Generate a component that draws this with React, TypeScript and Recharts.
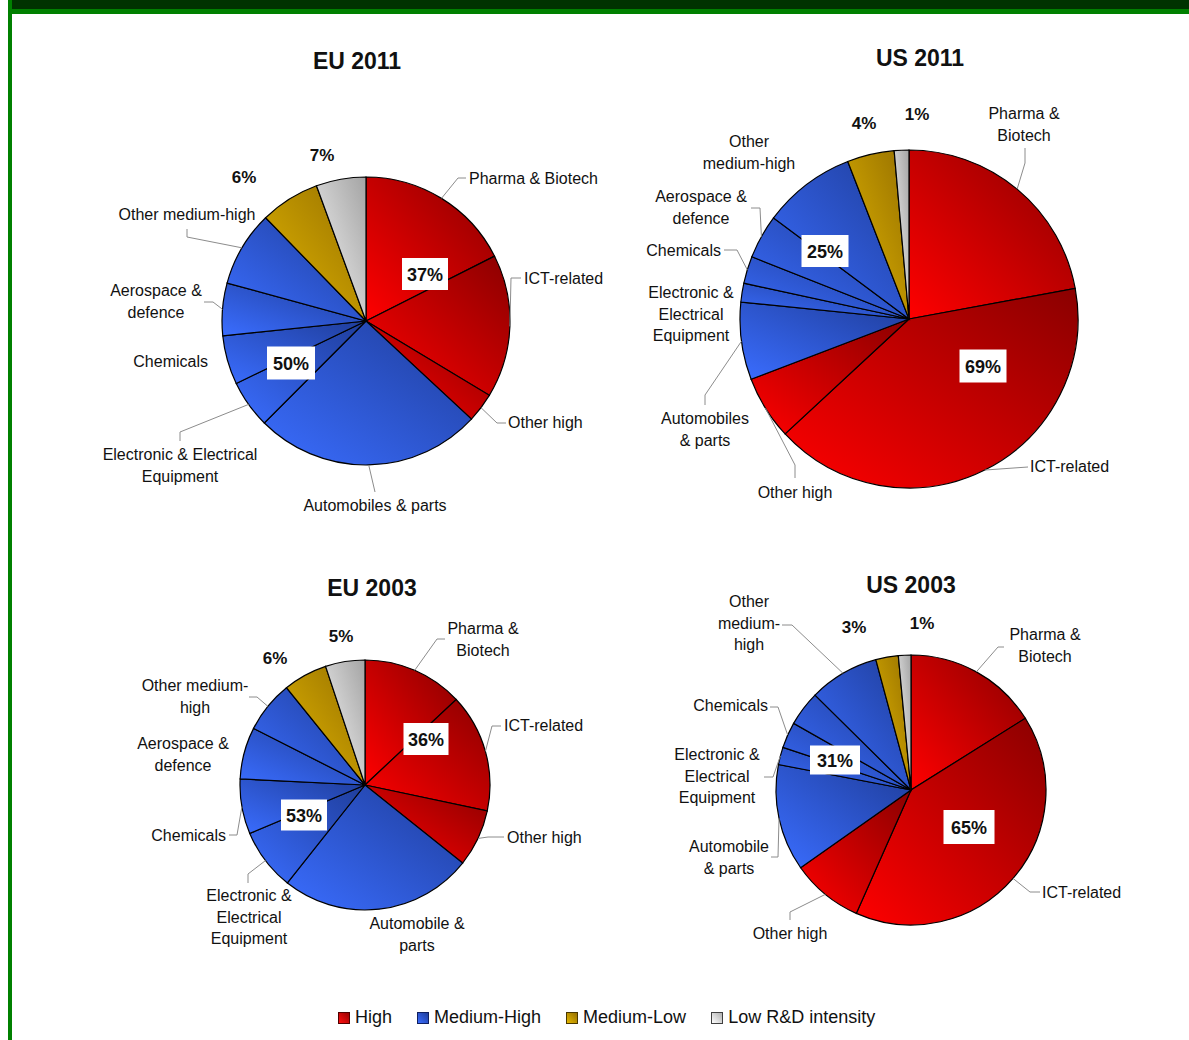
import React from "react";
import { Cell, Pie, PieChart } from "recharts";

const categories = [
  "Pharma & Biotech",
  "ICT-related",
  "Other high",
  "Automobiles & parts",
  "Electronic & Electrical Equipment",
  "Chemicals",
  "Aerospace & defence",
  "Other medium-high",
  "Medium-low",
  "Low R&D intensity",
];
const groups = ["High", "High", "High", "MH", "MH", "MH", "MH", "MH", "ML", "Low"];

// shares (%)
const eu2011 = [17.6, 16.1, 3.3, 25.6, 5.4, 5.5, 5.9, 8.5, 6.7, 5.6];
const us2011 = [22.1, 41.0, 6.1, 7.4, 1.8, 2.6, 4.2, 8.9, 4.5, 1.4];
const eu2003 = [13.0, 15.3, 7.4, 24.9, 8.0, 7.1, 6.7, 6.7, 5.7, 5.1];
const us2003 = [16.1, 40.6, 8.6, 12.8, 2.1, 3.1, 4.2, 8.4, 2.7, 1.5];

// group share labels: High, Medium-High, Medium-Low, Low
const eu2011Shares = ["37%", "50%", "6%", "7%"];
const us2011Shares = ["69%", "25%", "4%", "1%"];
const eu2003Shares = ["36%", "53%", "6%", "5%"];
const us2003Shares = ["65%", "31%", "3%", "1%"];

const legendItems = ["High", "Medium-High", "Medium-Low", "Low R&D intensity"];

const FONT = "'Liberation Sans', Arial, sans-serif";
const fills: Record<string, string> = {
  High: "url(#gHigh)",
  MH: "url(#gMH)",
  ML: "url(#gML)",
  Low: "url(#gLow)",
};

type LabelSpec = {
  lines: string[];
  x: number;
  y: number;
  anchor: "start" | "middle" | "end";
  path?: [number, number][];
} | null;

const L = (
  lines: string[],
  x: number,
  y: number,
  anchor: "start" | "middle" | "end",
  path?: [number, number][]
): LabelSpec => ({ lines, x, y, anchor, path });

const eu2011Labels: LabelSpec[] = [
  L(["Pharma & Biotech"], 469, 178, "start", [[458, 178], [466, 178]]),
  L(["ICT-related"], 524, 278, "start", [[511, 278], [521, 278]]),
  L(["Other high"], 508, 422, "start", [[497, 423], [506, 423]]),
  L(["Automobiles & parts"], 375, 505, "middle", [[375, 492]]),
  L(["Electronic & Electrical", "Equipment"], 180, 454, "middle", [[180, 432], [180, 441]]),
  L(["Chemicals"], 208, 361, "end"),
  L(["Aerospace &", "defence"], 156, 290, "middle", [[213, 302], [204, 302]]),
  L(["Other medium-high"], 187, 214, "middle", [[187, 237], [187, 229]]),
  null,
  null,
];
const us2011Labels: LabelSpec[] = [
  L(["Pharma &", "Biotech"], 1024, 113, "middle", [[1025, 163], [1025, 148]]),
  L(["ICT-related"], 1030, 466, "start", [[1028, 467]]),
  L(["Other high"], 795, 492, "middle", [[795, 465], [795, 478]]),
  L(["Automobiles", "& parts"], 705, 418, "middle", [[705, 395], [705, 405]]),
  L(["Electronic &", "Electrical", "Equipment"], 691, 292, "middle"),
  L(["Chemicals"], 721, 250, "end", [[737, 250], [724, 250]]),
  L(["Aerospace &", "defence"], 701, 196, "middle", [[760, 208], [751, 208]]),
  L(["Other", "medium-high"], 749, 141, "middle"),
  null,
  null,
];
const eu2003Labels: LabelSpec[] = [
  L(["Pharma &", "Biotech"], 483, 628, "middle", [[437, 639], [445, 639]]),
  L(["ICT-related"], 504, 725, "start", [[492, 726], [501, 726]]),
  L(["Other high"], 507, 837, "start", [[488, 837], [504, 837]]),
  L(["Automobile &", "parts"], 417, 923, "middle"),
  L(["Electronic &", "Electrical", "Equipment"], 249, 895, "middle", [[248, 874], [248, 883]]),
  L(["Chemicals"], 226, 835, "end", [[237, 835], [229, 835]]),
  L(["Aerospace &", "defence"], 183, 743, "middle"),
  L(["Other medium-", "high"], 195, 685, "middle", [[257, 697], [249, 697]]),
  null,
  null,
];
const us2003Labels: LabelSpec[] = [
  L(["Pharma &", "Biotech"], 1045, 634, "middle", [[998, 647], [1004, 647]]),
  L(["ICT-related"], 1042, 892, "start", [[1030, 892], [1040, 892]]),
  L(["Other high"], 790, 933, "middle", [[790, 912], [790, 920]]),
  L(["Automobile", "& parts"], 729, 846, "middle", [[778, 857], [771, 857]]),
  L(["Electronic &", "Electrical", "Equipment"], 717, 754, "middle", [[773, 777], [764, 777]]),
  L(["Chemicals"], 768, 705, "end", [[778, 707], [770, 707]]),
  null,
  L(["Other", "medium-", "high"], 749, 601, "middle", [[792, 625], [782, 625]]),
  null,
  null,
];

type Box = [number, number, number, number];
const pies = [
  {
    key: "eu2011", title: "EU 2011", tx: 357, ty: 61,
    values: eu2011, shares: eu2011Shares, labels: eu2011Labels,
    cx: 366, cy: 321, r: 144,
    hiBox: [425, 274, 46, 32] as Box, mhBox: [291, 363, 48, 33] as Box,
    ml: [244, 177], low: [322, 155],
  },
  {
    key: "us2011", title: "US 2011", tx: 920, ty: 58,
    values: us2011, shares: us2011Shares, labels: us2011Labels,
    cx: 909, cy: 319, r: 169,
    hiBox: [983, 366, 47, 33] as Box, mhBox: [825, 251, 47, 32] as Box,
    ml: [864, 123], low: [917, 114],
  },
  {
    key: "eu2003", title: "EU 2003", tx: 372, ty: 588,
    values: eu2003, shares: eu2003Shares, labels: eu2003Labels,
    cx: 365, cy: 785, r: 125,
    hiBox: [426, 739, 45, 32] as Box, mhBox: [304, 815, 46, 31] as Box,
    ml: [275, 658], low: [341, 636],
  },
  {
    key: "us2003", title: "US 2003", tx: 911, ty: 585,
    values: us2003, shares: us2003Shares, labels: us2003Labels,
    cx: 911, cy: 790, r: 135,
    hiBox: [969, 827, 51, 34] as Box, mhBox: [835, 760, 50, 29] as Box,
    ml: [854, 627], low: [922, 623],
  },
];

const LINE_H = 21.5;

const makeLabel = (specs: LabelSpec[]) => (props: any) => {
  const { cx, cy, midAngle, outerRadius, index } = props;
  const s = specs[index];
  if (!s) return <g />;
  const rad = (-midAngle * Math.PI) / 180;
  const sx = cx + outerRadius * Math.cos(rad);
  const sy = cy + outerRadius * Math.sin(rad);
  const pts = s.path ? [[sx, sy], ...s.path] : [];
  return (
    <g>
      {pts.length > 1 && (
        <polyline
          points={pts.map((p) => p.join(",")).join(" ")}
          fill="none"
          stroke="#8c8c8c"
          strokeWidth={1}
        />
      )}
      <text
        x={s.x}
        y={s.y}
        textAnchor={s.anchor}
        dominantBaseline="central"
        fontFamily={FONT}
        fontSize={16}
        fill="#111"
      >
        {s.lines.map((line, i) => (
          <tspan key={i} x={s.x} dy={i === 0 ? 0 : LINE_H}>
            {line}
          </tspan>
        ))}
      </text>
    </g>
  );
};

const ShareBox = ({ box, text }: { box: Box; text: string }) => {
  const [x, y, w, h] = box;
  return (
    <g>
      <rect x={x - w / 2} y={y - h / 2} width={w} height={h} fill="#fff" />
      <text
        x={x}
        y={y + 1}
        textAnchor="middle"
        dominantBaseline="central"
        fontFamily={FONT}
        fontWeight="bold"
        fontSize={18}
        fill="#111"
      >
        {text}
      </text>
    </g>
  );
};

const legendBg: Record<string, [string, string, string]> = {
  High: ["#ff1010", "#990000", "#500000"],
  "Medium-High": ["#3a6dff", "#1f3d9a", "#102060"],
  "Medium-Low": ["#e6b800", "#967000", "#4a3800"],
  "Low R&D intensity": ["#ffffff", "#b0b0b0", "#404040"],
};

const App = () => {
  return (
    <div
      style={{
        position: "absolute",
        left: 0,
        top: 0,
        width: 1189,
        height: 1040,
        background: "#fff",
        overflow: "hidden",
        fontFamily: FONT,
      }}
    >
      <svg width={0} height={0} style={{ position: "absolute" }}>
        <defs>
          <linearGradient id="gHigh" x1="0" y1="1" x2="1" y2="0">
            <stop offset="0%" stopColor="#ff0000" />
            <stop offset="100%" stopColor="#8a0000" />
          </linearGradient>
          <linearGradient id="gMH" x1="0" y1="1" x2="1" y2="0">
            <stop offset="0%" stopColor="#3a6dff" />
            <stop offset="100%" stopColor="#1f3d9a" />
          </linearGradient>
          <linearGradient id="gML" x1="0" y1="1" x2="1" y2="0">
            <stop offset="0%" stopColor="#e3b600" />
            <stop offset="100%" stopColor="#967000" />
          </linearGradient>
          <linearGradient id="gLow" x1="0" y1="1" x2="1" y2="0">
            <stop offset="0%" stopColor="#f7f7f7" />
            <stop offset="100%" stopColor="#a4a4a4" />
          </linearGradient>
        </defs>
      </svg>

      {/* frame */}
      <div style={{ position: "absolute", left: 8, top: 0, width: 4, height: 1040, background: "#008000" }} />
      <div style={{ position: "absolute", left: 12, top: 0, right: 0, height: 9, background: "#003300" }} />
      <div style={{ position: "absolute", left: 12, top: 9, right: 0, height: 5, background: "#008000" }} />

      <div style={{ position: "absolute", left: 0, top: 0 }}>
        <PieChart width={1189} height={1040} margin={{ top: 0, right: 0, bottom: 0, left: 0 }}>
          {pies.map((p) => (
            <Pie
              key={p.key}
              data={categories.map((name, i) => ({ name, value: p.values[i], group: groups[i] }))}
              dataKey="value"
              nameKey="name"
              cx={p.cx}
              cy={p.cy}
              outerRadius={p.r}
              startAngle={90}
              endAngle={-270}
              stroke="#000"
              strokeWidth={1.2}
              label={makeLabel(p.labels)}
              labelLine={false}
              isAnimationActive={false}
            >
              {groups.map((g, i) => (
                <Cell key={i} fill={fills[g]} stroke="#000" strokeWidth={1.2} />
              ))}
            </Pie>
          ))}
        </PieChart>
      </div>

      <svg
        width={1189}
        height={1040}
        style={{ position: "absolute", left: 0, top: 0, pointerEvents: "none" }}
      >
        {pies.map((p) => (
          <g key={p.key}>
            <text
              x={p.tx}
              y={p.ty}
              textAnchor="middle"
              dominantBaseline="central"
              fontFamily={FONT}
              fontWeight="bold"
              fontSize={23}
              fill="#111"
            >
              {p.title}
            </text>
            <ShareBox box={p.hiBox} text={p.shares[0]} />
            <ShareBox box={p.mhBox} text={p.shares[1]} />
            <text
              x={p.ml[0]}
              y={p.ml[1]}
              textAnchor="middle"
              dominantBaseline="central"
              fontFamily={FONT}
              fontWeight="bold"
              fontSize={17}
              fill="#111"
            >
              {p.shares[2]}
            </text>
            <text
              x={p.low[0]}
              y={p.low[1]}
              textAnchor="middle"
              dominantBaseline="central"
              fontFamily={FONT}
              fontWeight="bold"
              fontSize={17}
              fill="#111"
            >
              {p.shares[3]}
            </text>
          </g>
        ))}
      </svg>

      <div
        style={{
          position: "absolute",
          left: 338,
          top: 1007,
          display: "flex",
          alignItems: "center",
          fontSize: 18,
          color: "#111",
          fontFamily: FONT,
        }}
      >
        {legendItems.map((item) => {
          const [c1, c2, b] = legendBg[item];
          return (
            <div key={item} style={{ display: "flex", alignItems: "center", marginRight: 25 }}>
              <div
                style={{
                  width: 10,
                  height: 10,
                  border: `1px solid ${b}`,
                  background: `linear-gradient(to top right, ${c1}, ${c2})`,
                  marginRight: 5,
                }}
              />
              <span>{item}</span>
            </div>
          );
        })}
      </div>
    </div>
  );
};

export default App;
